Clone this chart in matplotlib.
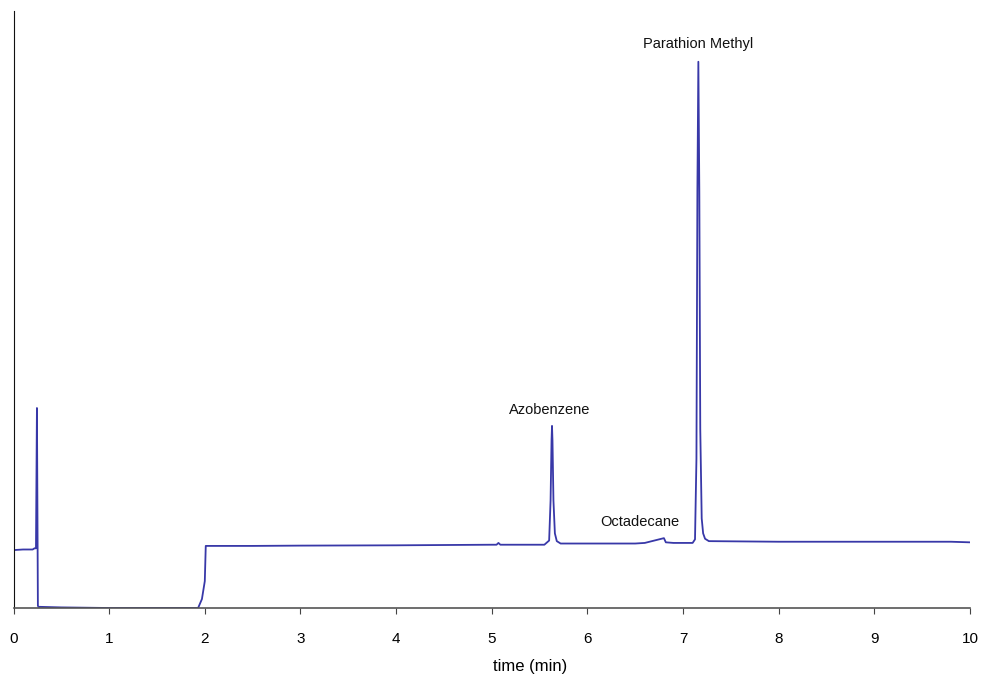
import matplotlib
matplotlib.use("Agg")
import matplotlib.pyplot as plt

# chromatogram trace (signal in arbitrary units)
time_min = [0.0, 0.1, 0.2, 0.22, 0.235, 0.245, 0.255, 0.26, 0.5, 1.0, 1.5, 1.93,
            1.97, 2.0, 2.01, 2.03, 2.5, 3.0, 4.0, 5.0, 5.05, 5.07, 5.09, 5.55,
            5.60, 5.615, 5.625, 5.63, 5.635, 5.645, 5.66, 5.68, 5.72, 6.5, 6.6,
            6.75, 6.80, 6.82, 6.9, 7.10, 7.125, 7.14, 7.15, 7.16, 7.17, 7.18,
            7.195, 7.21, 7.23, 7.27, 8.0, 9.0, 9.8, 10.0]
signal = [9.7, 9.8, 9.8, 10.0, 10.0, 33.5, 0.4, 0.2, 0.1, 0.0, 0.0, 0.0,
          1.5, 4.5, 10.4, 10.4, 10.4, 10.45, 10.5, 10.6, 10.6, 10.9, 10.6, 10.6,
          11.3, 18.0, 28.0, 30.5, 28.0, 18.0, 12.5, 11.2, 10.8, 10.8, 10.9,
          11.5, 11.7, 11.0, 10.9, 10.9, 11.5, 25.0, 70.0, 91.5, 70.0, 30.0,
          15.0, 12.5, 11.6, 11.2, 11.1, 11.1, 11.1, 11.0]

peak_names = ["Parathion Methyl", "Azobenzene", "Octadecane"]
peak_x = [7.16, 5.61, 6.55]
peak_y = [94.5, 33.2, 14.4]

xticks = list(range(0, 11))

plt.rcParams["font.family"] = ["Liberation Sans", "DejaVu Sans"]

fig = plt.figure(figsize=(9.84, 6.77), dpi=100)
ax = fig.add_axes([13.5 / 984, 69 / 677, (970 - 13.5) / 984, (608 - 11) / 677])

ax.plot(time_min, signal, color="#3838a8", linewidth=1.3)

for name, x, y in zip(peak_names, peak_x, peak_y):
    ax.text(x, y, name, ha="center", va="center", fontsize=10.5, color="#111111")

ax.set_xlim(0, 10)
ax.set_ylim(0, 100)
ax.set_xticks(xticks)
ax.set_yticks([])
ax.tick_params(axis="x", direction="out", length=4, labelsize=11, pad=13, color="#444444")
ax.set_xlabel("time (min)", fontsize=12, labelpad=8)
ax.xaxis.set_label_coords(0.54, -0.085)

ax.spines["top"].set_visible(False)
ax.spines["right"].set_visible(False)
ax.spines["left"].set_color("#111111")
ax.spines["bottom"].set_color("#555555")
ax.spines["bottom"].set_linewidth(1.2)

fig.savefig("out.png", dpi=100)
